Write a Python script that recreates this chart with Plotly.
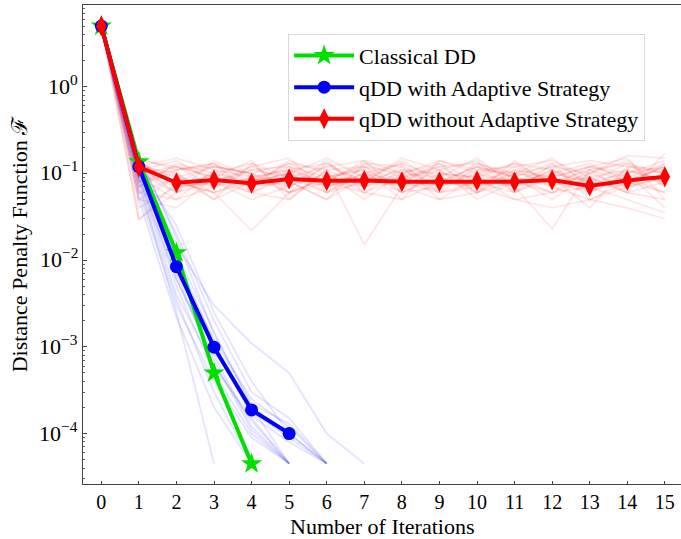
import plotly.graph_objects as go

# ---------------- data ----------------
iters_classical = [0, 1, 2, 3, 4]
classical_dd = [5.0, 0.136, 0.0122, 5.0e-4, 4.5e-5]

iters_adaptive = [0, 1, 2, 3, 4, 5]
qdd_adaptive = [5.0, 0.12, 0.0084, 9.9e-4, 1.87e-4, 1.0e-4]

iters_nonadaptive = list(range(16))
qdd_nonadaptive = [5.0, 0.119, 0.078, 0.084, 0.077, 0.086, 0.082, 0.083,
                   0.080, 0.080, 0.082, 0.080, 0.084, 0.0716, 0.083, 0.0916]

# individual (faint) runs, qDD with adaptive strategy
blue_runs = [
    [5, 0.10, 0.006, 0.0008, 0.00012, 4.5e-5],
    [5, 0.14, 0.012, 0.0015, 0.0002, 4.5e-5],
    [5, 0.08, 0.0025, 4.5e-5],
    [5, 0.11, 0.009, 0.0012, 0.00025, 0.00012, 4.5e-5],
    [5, 0.13, 0.015, 0.003, 0.0011, 0.0005, 0.0001, 4.5e-5],
    [5, 0.06, 0.003, 0.0004, 9e-5, 4.5e-5],
    [5, 0.12, 0.007, 0.0006, 0.00015, 4.5e-5],
    [5, 0.09, 0.005, 0.0005, 0.0001, 4.5e-5],
    [5, 0.15, 0.02, 0.002, 0.0003, 0.00015, 4.5e-5],
    [5, 0.10, 0.008, 0.001, 0.00018, 9e-5, 4.5e-5],
    [5, 0.07, 0.0035, 0.0003, 4.5e-5],
    [5, 0.13, 0.010, 0.0009, 0.0002, 0.0001, 4.5e-5],
    [5, 0.05, 0.0022, 0.0002, 4.5e-5],
    [5, 0.11, 0.025, 0.0025, 0.0004, 0.0001, 4.5e-5],
    [5, 0.09, 0.006, 0.0007, 0.00011, 4.5e-5],
    [5, 0.16, 0.018, 0.0014, 0.00022, 0.00013, 4.5e-5],
    [5, 0.085, 0.004, 0.0006, 0.00014, 4.5e-5],
    [5, 0.12, 0.011, 0.0011, 0.00016, 8e-5, 4.5e-5],
]

# individual (faint) runs, qDD without adaptive strategy
red_runs = [
    [5, 0.10, 0.12, 0.09, 0.07, 0.11, 0.08, 0.06, 0.09, 0.12, 0.07, 0.10, 0.08, 0.06, 0.09, 0.11],
    [5, 0.14, 0.07, 0.10, 0.13, 0.06, 0.09, 0.11, 0.07, 0.08, 0.12, 0.06, 0.10, 0.08, 0.13, 0.07],
    [5, 0.06, 0.09, 0.05, 0.08, 0.12, 0.07, 0.09, 0.13, 0.06, 0.08, 0.11, 0.07, 0.05, 0.08, 0.06],
    [5, 0.12, 0.15, 0.11, 0.09, 0.07, 0.12, 0.14, 0.10, 0.09, 0.06, 0.08, 0.12, 0.10, 0.07, 0.09],
    [5, 0.03, 0.06, 0.08, 0.05, 0.07, 0.10, 0.06, 0.05, 0.08, 0.07, 0.05, 0.06, 0.09, 0.06, 0.05],
    [5, 0.09, 0.05, 0.07, 0.11, 0.09, 0.06, 0.08, 0.11, 0.07, 0.10, 0.07, 0.023, 0.11, 0.08, 0.12],
    [5, 0.15, 0.11, 0.13, 0.08, 0.10, 0.15, 0.09, 0.08, 0.12, 0.13, 0.09, 0.07, 0.12, 0.10, 0.14],
    [5, 0.08, 0.10, 0.06, 0.022, 0.06, 0.09, 0.12, 0.06, 0.10, 0.09, 0.07, 0.11, 0.07, 0.11, 0.08],
    [5, 0.11, 0.08, 0.12, 0.10, 0.13, 0.08, 0.07, 0.12, 0.05, 0.06, 0.10, 0.09, 0.04, 0.12, 0.10],
    [5, 0.05, 0.04, 0.09, 0.06, 0.05, 0.11, 0.015, 0.07, 0.11, 0.05, 0.08, 0.06, 0.07, 0.05, 0.035],
    [5, 0.13, 0.09, 0.07, 0.12, 0.08, 0.05, 0.13, 0.09, 0.07, 0.11, 0.12, 0.14, 0.09, 0.06, 0.17],
    [5, 0.07, 0.13, 0.10, 0.07, 0.14, 0.10, 0.05, 0.10, 0.13, 0.08, 0.06, 0.09, 0.12, 0.09, 0.13],
    [5, 0.10, 0.06, 0.14, 0.09, 0.06, 0.13, 0.08, 0.14, 0.08, 0.12, 0.09, 0.05, 0.10, 0.14, 0.07],
    [5, 0.12, 0.10, 0.05, 0.13, 0.09, 0.07, 0.10, 0.06, 0.09, 0.15, 0.07, 0.11, 0.06, 0.10, 0.04],
    [5, 0.04, 0.07, 0.08, 0.06, 0.10, 0.06, 0.12, 0.08, 0.06, 0.07, 0.09, 0.13, 0.08, 0.07, 0.09],
    [5, 0.09, 0.11, 0.12, 0.10, 0.07, 0.14, 0.06, 0.11, 0.10, 0.09, 0.13, 0.08, 0.11, 0.13, 0.10],
    [5, 0.11, 0.14, 0.08, 0.11, 0.12, 0.09, 0.11, 0.05, 0.14, 0.10, 0.08, 0.10, 0.13, 0.08, 0.12],
    [5, 0.13, 0.08, 0.06, 0.08, 0.10, 0.08, 0.13, 0.12, 0.07, 0.13, 0.10, 0.15, 0.07, 0.09, 0.06],
    [5, 0.08, 0.12, 0.09, 0.14, 0.05, 0.11, 0.07, 0.09, 0.11, 0.06, 0.14, 0.07, 0.10, 0.16, 0.15],
    [5, 0.06, 0.05, 0.11, 0.07, 0.08, 0.05, 0.09, 0.07, 0.05, 0.09, 0.05, 0.04, 0.05, 0.04, 0.03],
    [5, 0.029, 0.08, 0.06, 0.09, 0.11, 0.07, 0.10, 0.13, 0.09, 0.07, 0.12, 0.08, 0.09, 0.11, 0.08],
    [5, 0.12, 0.06, 0.10, 0.08, 0.13, 0.11, 0.12, 0.10, 0.14, 0.11, 0.10, 0.12, 0.14, 0.12, 0.11],
    [5, 0.07, 0.11, 0.13, 0.06, 0.09, 0.12, 0.08, 0.15, 0.11, 0.14, 0.06, 0.13, 0.05, 0.07, 0.13],
    [5, 0.10, 0.07, 0.08, 0.12, 0.15, 0.06, 0.10, 0.08, 0.13, 0.06, 0.11, 0.09, 0.12, 0.15, 0.05],
    [5, 0.05, 0.09, 0.12, 0.10, 0.06, 0.08, 0.14, 0.06, 0.07, 0.10, 0.13, 0.11, 0.08, 0.10, 0.12],
    [5, 0.14, 0.12, 0.07, 0.09, 0.11, 0.13, 0.07, 0.10, 0.06, 0.12, 0.09, 0.06, 0.11, 0.06, 0.08],
]

x_ticks = list(range(16))
y_tick_exps = [0, -1, -2, -3, -4]
x_title = "Number of Iterations"
y_title = "Distance Penalty Function \u2131"

FONT = "Liberation Serif"

fig = go.Figure()

for run in red_runs:
    fig.add_trace(go.Scatter(
        x=list(range(len(run))), y=run, mode="lines",
        line=dict(color="rgba(255,0,0,0.10)", width=1.8),
        showlegend=False, hoverinfo="skip"))

for run in blue_runs:
    fig.add_trace(go.Scatter(
        x=list(range(len(run))), y=run, mode="lines",
        line=dict(color="rgba(0,0,255,0.11)", width=1.8),
        showlegend=False, hoverinfo="skip"))

fig.add_trace(go.Scatter(
    x=iters_classical, y=classical_dd, mode="lines+markers",
    name="Classical DD",
    line=dict(color="#00e000", width=4),
    marker=dict(symbol="star", size=16, color="#00e000")))

fig.add_trace(go.Scatter(
    x=iters_adaptive, y=qdd_adaptive, mode="lines+markers",
    name="qDD with Adaptive Strategy",
    line=dict(color="#0000ff", width=4),
    marker=dict(symbol="circle", size=13, color="#0000ff")))

fig.add_trace(go.Scatter(
    x=iters_nonadaptive, y=qdd_nonadaptive, mode="lines+markers",
    name="qDD without Adaptive Strategy",
    line=dict(color="#ff0000", width=4),
    marker=dict(symbol="diamond-tall", size=15, color="#ff0000")))

# y tick labels as text annotations (placed closer to the axis, as in the reference)
for e in y_tick_exps:
    label = "10<sup>%s</sup>" % (str(e) if e >= 0 else "\u2212" + str(-e))
    fig.add_annotation(
        xref="paper", x=0, yref="y", y=e, text=label, showarrow=False,
        xanchor="right", yanchor="middle", xshift=-3, yshift=2,
        font=dict(family=FONT, size=22, color="black"))

# x axis title
fig.add_annotation(
    xref="paper", x=0.5, yref="paper", y=0, text=x_title, showarrow=False,
    xanchor="center", yanchor="top", yshift=-29, borderpad=0,
    font=dict(family=FONT, size=22, color="black"))

fig.update_layout(
    width=681, height=539,
    margin=dict(l=83, r=0, t=5, b=55),
    paper_bgcolor="white", plot_bgcolor="white",
    font=dict(family=FONT, size=22, color="black"),
    legend=dict(
        x=0.343, y=0.94, xanchor="left", yanchor="top",
        bgcolor="white", bordercolor="#d8d8d8", borderwidth=1,
        font=dict(family=FONT, size=22), tracegroupgap=0,
        itemwidth=60),
    xaxis=dict(
        range=[-0.487, 15.43], tickmode="array", tickvals=x_ticks,
        ticktext=[str(v) for v in x_ticks],
        ticks="inside", ticklen=3, tickcolor="#444", tickwidth=1,
        showline=True, linecolor="#444", linewidth=1.3, mirror=True,
        showgrid=False, zeroline=False,
        tickfont=dict(family=FONT, size=20)),
    yaxis=dict(
        type="log", range=[-4.582, 0.942],
        tickmode="array", tickvals=[10 ** e for e in y_tick_exps],
        showticklabels=False,
        ticks="inside", ticklen=3.5, tickcolor="#444", tickwidth=1,
        minor=dict(ticks="inside", ticklen=2, tickcolor="#666", dtick="D1", showgrid=False),
        showline=True, linecolor="#444", linewidth=1.3, mirror=False,
        showgrid=False, zeroline=False,
        title=dict(text=y_title, standoff=48,
                   font=dict(family=FONT, size=22))),
)

fig.write_html("out.html")
